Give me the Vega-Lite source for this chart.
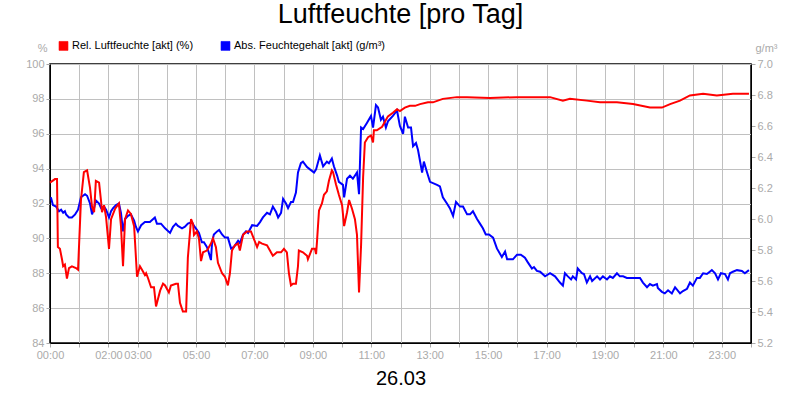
{
  "$schema": "https://vega.github.io/schema/vega-lite/v6.json",
  "width": 701,
  "height": 279,
  "autosize": {"type": "none"},
  "padding": {"left": 50, "top": 64, "right": 49, "bottom": 57},
  "background": "white",
  "title": {"text": "Luftfeuchte [pro Tag]", "fontSize": 27, "font": "Liberation Sans", "fontWeight": "normal", "color": "black", "anchor": "middle", "frame": "group", "offset": 11},
  "config": {
    "view": {"stroke": "black", "strokeWidth": 1.5},
    "font": "Liberation Sans",
    "axis": {"labelFont": "Liberation Sans", "labelFontSize": 11, "labelColor": "#aaaaaa", "tickColor": "#aaaaaa", "tickSize": 4, "gridColor": "#c0c0c0", "gridWidth": 1, "domainColor": "black", "titleFont": "Liberation Sans", "titleFontWeight": "normal"}
  },
  "datasets": {
    "rel": [
      {"h":0,"v":93.2},{"h":0.17,"v":93.4},{"h":0.24,"v":93.4},{"h":0.27,"v":89.5},{"h":0.34,"v":89.4},{"h":0.41,"v":88.8},{"h":0.45,"v":88.4},{"h":0.51,"v":88.5},{"h":0.58,"v":87.7},{"h":0.65,"v":88.3},{"h":0.75,"v":88.4},{"h":0.89,"v":88.3},{"h":0.96,"v":88.2},{"h":1.06,"v":92.2},{"h":1.16,"v":93.8},{"h":1.27,"v":93.9},{"h":1.37,"v":92.9},{"h":1.44,"v":91.8},{"h":1.51,"v":91.5},{"h":1.57,"v":93.3},{"h":1.68,"v":93.2},{"h":1.75,"v":92.1},{"h":1.78,"v":91.5},{"h":1.85,"v":91.9},{"h":1.92,"v":91.2},{"h":2.02,"v":89.4},{"h":2.09,"v":91.1},{"h":2.23,"v":91.7},{"h":2.36,"v":92.0},{"h":2.43,"v":90.7},{"h":2.5,"v":88.4},{"h":2.57,"v":91.1},{"h":2.67,"v":91.6},{"h":2.77,"v":91.4},{"h":2.88,"v":90.7},{"h":2.98,"v":87.8},{"h":3.08,"v":88.4},{"h":3.15,"v":88.2},{"h":3.25,"v":87.9},{"h":3.29,"v":88.0},{"h":3.36,"v":87.7},{"h":3.46,"v":87.2},{"h":3.56,"v":87.2},{"h":3.63,"v":86.1},{"h":3.77,"v":87.0},{"h":3.87,"v":87.4},{"h":3.94,"v":87.3},{"h":4.07,"v":86.9},{"h":4.14,"v":87.3},{"h":4.31,"v":87.4},{"h":4.38,"v":87.4},{"h":4.45,"v":86.3},{"h":4.55,"v":85.8},{"h":4.66,"v":85.8},{"h":4.72,"v":88.9},{"h":4.83,"v":91.1},{"h":4.9,"v":90.8},{"h":4.93,"v":90.2},{"h":5.03,"v":90.4},{"h":5.1,"v":90.0},{"h":5.17,"v":88.7},{"h":5.24,"v":89.2},{"h":5.37,"v":89.3},{"h":5.41,"v":89.4},{"h":5.51,"v":89.7},{"h":5.58,"v":90.0},{"h":5.68,"v":89.5},{"h":5.75,"v":88.6},{"h":5.89,"v":88.0},{"h":5.99,"v":87.8},{"h":6.09,"v":87.3},{"h":6.16,"v":88.0},{"h":6.23,"v":89.3},{"h":6.33,"v":89.6},{"h":6.44,"v":89.7},{"h":6.5,"v":89.3},{"h":6.61,"v":90.2},{"h":6.74,"v":90.4},{"h":6.88,"v":90.4},{"h":6.95,"v":90.1},{"h":7.09,"v":89.5},{"h":7.16,"v":89.8},{"h":7.26,"v":89.7},{"h":7.43,"v":89.6},{"h":7.53,"v":89.3},{"h":7.63,"v":89.0},{"h":7.77,"v":89.2},{"h":7.91,"v":89.2},{"h":8.01,"v":89.4},{"h":8.11,"v":89.2},{"h":8.18,"v":88.0},{"h":8.25,"v":87.3},{"h":8.32,"v":87.4},{"h":8.42,"v":87.4},{"h":8.49,"v":88.4},{"h":8.52,"v":89.3},{"h":8.66,"v":89.2},{"h":8.8,"v":89.0},{"h":8.83,"v":88.8},{"h":8.97,"v":89.4},{"h":9.07,"v":89.4},{"h":9.11,"v":89.1},{"h":9.14,"v":89.8},{"h":9.21,"v":91.6},{"h":9.31,"v":92.0},{"h":9.38,"v":92.5},{"h":9.48,"v":92.7},{"h":9.55,"v":93.3},{"h":9.65,"v":93.9},{"h":9.69,"v":93.8},{"h":9.79,"v":93.1},{"h":9.89,"v":92.5},{"h":10.0,"v":91.9},{"h":10.07,"v":90.7},{"h":10.17,"v":91.5},{"h":10.24,"v":92.2},{"h":10.34,"v":91.7},{"h":10.44,"v":91.1},{"h":10.51,"v":90.2},{"h":10.58,"v":86.9},{"h":10.65,"v":89.6},{"h":10.72,"v":93.5},{"h":10.78,"v":95.5},{"h":10.89,"v":95.8},{"h":10.99,"v":95.9},{"h":11.06,"v":95.5},{"h":11.09,"v":96.2},{"h":11.19,"v":96.2},{"h":11.37,"v":96.4},{"h":11.47,"v":96.7},{"h":11.57,"v":97.0},{"h":11.74,"v":97.2},{"h":11.88,"v":97.4},{"h":11.98,"v":97.3},{"h":12.15,"v":97.5},{"h":12.32,"v":97.6},{"h":12.5,"v":97.6},{"h":12.67,"v":97.7},{"h":12.94,"v":97.8},{"h":13.11,"v":97.8},{"h":13.45,"v":98.0},{"h":13.93,"v":98.1},{"h":14.28,"v":98.1},{"h":15.06,"v":98.05},{"h":15.99,"v":98.1},{"h":17.12,"v":98.1},{"h":17.56,"v":97.9},{"h":17.8,"v":98.0},{"h":18.38,"v":97.9},{"h":18.83,"v":97.8},{"h":19.41,"v":97.8},{"h":19.96,"v":97.7},{"h":20.54,"v":97.5},{"h":20.95,"v":97.5},{"h":21.23,"v":97.7},{"h":21.57,"v":97.9},{"h":21.91,"v":98.2},{"h":22.36,"v":98.3},{"h":22.83,"v":98.2},{"h":23.38,"v":98.3},{"h":23.93,"v":98.3}
    ],
    "abs": [
      {"h":0.03,"v":6.14},{"h":0.1,"v":6.09},{"h":0.21,"v":6.08},{"h":0.31,"v":6.05},{"h":0.38,"v":6.06},{"h":0.45,"v":6.04},{"h":0.51,"v":6.05},{"h":0.55,"v":6.03},{"h":0.65,"v":6.01},{"h":0.75,"v":6.01},{"h":0.86,"v":6.03},{"h":0.96,"v":6.06},{"h":1.06,"v":6.14},{"h":1.2,"v":6.16},{"h":1.27,"v":6.15},{"h":1.37,"v":6.1},{"h":1.44,"v":6.03},{"h":1.51,"v":6.07},{"h":1.57,"v":6.12},{"h":1.68,"v":6.1},{"h":1.75,"v":6.07},{"h":1.85,"v":6.08},{"h":1.92,"v":6.06},{"h":2.02,"v":6.01},{"h":2.09,"v":6.05},{"h":2.16,"v":6.07},{"h":2.26,"v":6.09},{"h":2.36,"v":6.1},{"h":2.43,"v":6.04},{"h":2.5,"v":5.92},{"h":2.57,"v":6.0},{"h":2.67,"v":6.02},{"h":2.77,"v":6.03},{"h":2.88,"v":5.99},{"h":2.94,"v":5.95},{"h":3.01,"v":5.92},{"h":3.12,"v":5.96},{"h":3.25,"v":5.98},{"h":3.42,"v":5.98},{"h":3.59,"v":6.01},{"h":3.66,"v":5.97},{"h":3.8,"v":5.97},{"h":3.94,"v":5.94},{"h":4.11,"v":5.91},{"h":4.21,"v":5.95},{"h":4.31,"v":5.97},{"h":4.38,"v":5.955},{"h":4.52,"v":5.94},{"h":4.62,"v":5.95},{"h":4.72,"v":5.97},{"h":4.86,"v":5.98},{"h":4.93,"v":5.955},{"h":5.03,"v":5.93},{"h":5.1,"v":5.91},{"h":5.2,"v":5.85},{"h":5.27,"v":5.85},{"h":5.37,"v":5.82},{"h":5.41,"v":5.8},{"h":5.51,"v":5.735},{"h":5.55,"v":5.85},{"h":5.61,"v":5.9},{"h":5.72,"v":5.92},{"h":5.79,"v":5.93},{"h":5.89,"v":5.9},{"h":5.99,"v":5.88},{"h":6.09,"v":5.88},{"h":6.2,"v":5.81},{"h":6.3,"v":5.82},{"h":6.44,"v":5.86},{"h":6.5,"v":5.845},{"h":6.61,"v":5.9},{"h":6.71,"v":5.92},{"h":6.78,"v":5.91},{"h":6.92,"v":5.96},{"h":7.09,"v":5.955},{"h":7.19,"v":5.98},{"h":7.29,"v":6.01},{"h":7.43,"v":6.04},{"h":7.53,"v":6.03},{"h":7.63,"v":6.08},{"h":7.74,"v":6.045},{"h":7.81,"v":6.01},{"h":7.91,"v":6.04},{"h":7.98,"v":6.13},{"h":8.08,"v":6.1},{"h":8.15,"v":6.07},{"h":8.25,"v":6.11},{"h":8.32,"v":6.11},{"h":8.42,"v":6.17},{"h":8.49,"v":6.3},{"h":8.59,"v":6.36},{"h":8.66,"v":6.37},{"h":8.8,"v":6.335},{"h":8.9,"v":6.32},{"h":9.04,"v":6.3},{"h":9.11,"v":6.32},{"h":9.24,"v":6.41},{"h":9.35,"v":6.34},{"h":9.48,"v":6.37},{"h":9.55,"v":6.36},{"h":9.65,"v":6.39},{"h":9.72,"v":6.34},{"h":9.83,"v":6.28},{"h":9.89,"v":6.24},{"h":10.03,"v":6.22},{"h":10.07,"v":6.14},{"h":10.17,"v":6.26},{"h":10.27,"v":6.28},{"h":10.37,"v":6.26},{"h":10.51,"v":6.3},{"h":10.58,"v":6.16},{"h":10.65,"v":6.59},{"h":10.72,"v":6.58},{"h":10.85,"v":6.62},{"h":10.99,"v":6.665},{"h":11.06,"v":6.59},{"h":11.16,"v":6.735},{"h":11.23,"v":6.72},{"h":11.33,"v":6.64},{"h":11.4,"v":6.66},{"h":11.5,"v":6.59},{"h":11.57,"v":6.63},{"h":11.74,"v":6.665},{"h":11.88,"v":6.7},{"h":11.98,"v":6.6},{"h":12.09,"v":6.55},{"h":12.15,"v":6.66},{"h":12.26,"v":6.59},{"h":12.36,"v":6.59},{"h":12.43,"v":6.47},{"h":12.53,"v":6.49},{"h":12.6,"v":6.445},{"h":12.74,"v":6.3},{"h":12.8,"v":6.37},{"h":12.91,"v":6.3},{"h":13.01,"v":6.24},{"h":13.25,"v":6.22},{"h":13.35,"v":6.21},{"h":13.45,"v":6.14},{"h":13.59,"v":6.1},{"h":13.69,"v":6.07},{"h":13.8,"v":6.02},{"h":13.9,"v":6.11},{"h":14.04,"v":6.08},{"h":14.14,"v":6.08},{"h":14.28,"v":6.03},{"h":14.38,"v":6.03},{"h":14.48,"v":6.05},{"h":14.62,"v":6.0},{"h":14.72,"v":5.97},{"h":14.82,"v":5.94},{"h":14.92,"v":5.9},{"h":15.03,"v":5.9},{"h":15.17,"v":5.88},{"h":15.3,"v":5.81},{"h":15.47,"v":5.755},{"h":15.58,"v":5.79},{"h":15.65,"v":5.74},{"h":15.85,"v":5.74},{"h":15.99,"v":5.77},{"h":16.12,"v":5.77},{"h":16.26,"v":5.75},{"h":16.36,"v":5.72},{"h":16.5,"v":5.68},{"h":16.57,"v":5.69},{"h":16.67,"v":5.665},{"h":16.78,"v":5.66},{"h":16.95,"v":5.63},{"h":17.12,"v":5.65},{"h":17.29,"v":5.63},{"h":17.46,"v":5.59},{"h":17.56,"v":5.57},{"h":17.63,"v":5.65},{"h":17.73,"v":5.63},{"h":17.84,"v":5.61},{"h":17.9,"v":5.63},{"h":18.01,"v":5.61},{"h":18.07,"v":5.68},{"h":18.21,"v":5.65},{"h":18.28,"v":5.645},{"h":18.38,"v":5.59},{"h":18.49,"v":5.63},{"h":18.56,"v":5.6},{"h":18.73,"v":5.63},{"h":18.83,"v":5.61},{"h":18.93,"v":5.63},{"h":19.07,"v":5.61},{"h":19.17,"v":5.63},{"h":19.27,"v":5.62},{"h":19.41,"v":5.65},{"h":19.51,"v":5.63},{"h":19.62,"v":5.63},{"h":19.75,"v":5.62},{"h":19.96,"v":5.62},{"h":20.2,"v":5.62},{"h":20.3,"v":5.59},{"h":20.44,"v":5.56},{"h":20.54,"v":5.58},{"h":20.64,"v":5.57},{"h":20.78,"v":5.58},{"h":20.81,"v":5.555},{"h":20.95,"v":5.53},{"h":21.05,"v":5.52},{"h":21.16,"v":5.54},{"h":21.29,"v":5.52},{"h":21.4,"v":5.56},{"h":21.57,"v":5.52},{"h":21.67,"v":5.535},{"h":21.81,"v":5.55},{"h":21.91,"v":5.59},{"h":22.01,"v":5.57},{"h":22.15,"v":5.62},{"h":22.25,"v":5.62},{"h":22.36,"v":5.65},{"h":22.49,"v":5.645},{"h":22.66,"v":5.67},{"h":22.77,"v":5.65},{"h":22.87,"v":5.61},{"h":22.97,"v":5.65},{"h":23.11,"v":5.645},{"h":23.21,"v":5.61},{"h":23.28,"v":5.65},{"h":23.38,"v":5.66},{"h":23.52,"v":5.67},{"h":23.69,"v":5.665},{"h":23.79,"v":5.65},{"h":23.93,"v":5.67}
    ]
  },
  "encoding": {
    "x": {
      "field": "h", "type": "quantitative",
      "scale": {"domain": [0, 24], "nice": false, "zero": false},
      "axis": {
        "values": [0,1,2,3,4,5,6,7,8,9,10,11,12,13,14,15,16,17,18,19,20,21,22,23,24],
        "labelExpr": "indexof([0,2,3,5,7,9,11,13,15,17,19,21,23], datum.value) >= 0 ? ((datum.value < 10 ? '0' : '') + datum.value + ':00') : ''",
        "labelPadding": 2,
        "labelFlush": false,
        "labelOverlap": false,
        "title": "26.03",
        "titleFontSize": 20,
        "titleColor": "black",
        "titlePadding": 8,
        "grid": true
      }
    }
  },
  "layer": [
    {
      "data": {"name": "abs"},
      "mark": {"type": "line", "strokeWidth": 2, "interpolate": "linear"},
      "encoding": {
        "y": {
          "field": "v", "type": "quantitative",
          "scale": {"domain": [5.2, 7.0], "nice": false, "zero": false},
          "axis": {"orient": "right", "values": [5.2,5.4,5.6,5.8,6.0,6.2,6.4,6.6,6.8,7.0], "format": ".1f", "grid": false, "labelPadding": 2, "labelFlush": false, "title": "g/m³", "titleAngle": 0, "titleColor": "#aaaaaa", "titleFontSize": 11, "titleAlign": "left", "titleBaseline": "alphabetic", "titleX": 4, "titleY": -13}
        },
        "color": {"datum": "Abs. Feuchtegehalt [akt] (g/m³)", "type": "nominal"}
      }
    },
    {
      "data": {"name": "rel"},
      "mark": {"type": "line", "strokeWidth": 2, "interpolate": "linear"},
      "encoding": {
        "y": {
          "field": "v", "type": "quantitative",
          "scale": {"domain": [84, 100], "nice": false, "zero": false},
          "axis": {"orient": "left", "values": [84,86,88,90,92,94,96,98,100], "grid": true, "labelPadding": 2, "labelFlush": false, "title": "%", "titleAngle": 0, "titleColor": "#aaaaaa", "titleFontSize": 11, "titleAlign": "right", "titleBaseline": "alphabetic", "titleX": -3, "titleY": -13}
        },
        "color": {
          "datum": "Rel. Luftfeuchte [akt] (%)", "type": "nominal",
          "scale": {"domain": ["Rel. Luftfeuchte [akt] (%)", "Abs. Feuchtegehalt [akt] (g/m³)"], "range": ["#ff0000", "#0000ff"]},
          "legend": {
            "orient": "none", "legendX": 8, "legendY": -24, "direction": "horizontal", "title": null,
            "symbolType": "square", "symbolSize": 80, "symbolStrokeWidth": 0.6,
            "labelFontSize": 11, "labelColor": "black", "labelFont": "Liberation Sans", "labelOffset": 3, "columnPadding": 25,
            "encode": {"symbols": {"update": {"fill": {"scale": "color", "field": "value"}, "stroke": {"value": "black"}, "fillOpacity": {"value": 1}}}}
          }
        }
      }
    }
  ],
  "resolve": {"scale": {"y": "independent"}}
}
